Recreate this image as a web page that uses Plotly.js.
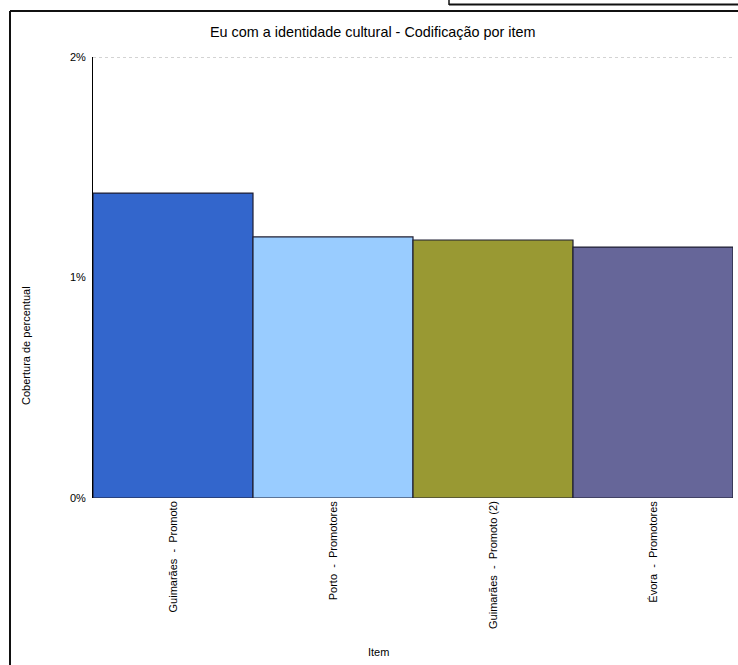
<!DOCTYPE html>
<html>
<head>
<meta charset="utf-8">
<script src="https://cdn.plot.ly/plotly-3.0.1.min.js"></script>
<style>html,body{margin:0;padding:0;background:#fff;}#chart{width:738px;height:665px;}</style>
</head>
<body>
<div id="chart"></div>
<script>
const categories = ["Guimarães\u00a0\u00a0-\u00a0\u00a0Promoto", "Porto\u00a0\u00a0-\u00a0\u00a0Promotores", "Guimarães\u00a0\u00a0-\u00a0\u00a0Promoto (2)", "Évora\u00a0\u00a0-\u00a0\u00a0Promotores"];
const coverage = [0.01383, 0.01184, 0.01170, 0.01138];
const barColors = ["#3366CC", "#99CCFF", "#999933", "#666699"];
const yTickVals = [0, 0.01, 0.02];
const yTickText = ["0%", "1%", "2%"];

const trace = {
  type: "bar",
  x: categories,
  y: coverage,
  marker: {color: barColors, line: {color: "#1f1f33", width: 1.2}},
  width: 1,
  hoverinfo: "x+y"
};

const yMax = yTickVals[yTickVals.length - 1];

const layout = {
  width: 738, height: 665,
  margin: {l: 93, r: 5, t: 57, b: 167},
  paper_bgcolor: "#ffffff",
  plot_bgcolor: "#ffffff",
  font: {family: "Liberation Sans, Arial, sans-serif", size: 11, color: "#000"},
  showlegend: false,
  bargap: 0,
  xaxis: {
    type: "category",
    tickangle: -90,
    showline: false,
    showgrid: false,
    ticks: "",
    ticklen: 0,
    tickfont: {size: 11, color: "#000"},
    automargin: false
  },
  yaxis: {
    range: [0, yMax],
    tickvals: yTickVals,
    ticktext: yTickText,
    showline: true,
    linecolor: "#000",
    linewidth: 1,
    showgrid: false,
    zeroline: false,
    ticks: "",
    ticklabelstandoff: 4,
    tickfont: {size: 11, color: "#000"},
    automargin: false
  },
  annotations: [
    {text: "Eu com a identidade cultural - Codificação por item", xref: "paper", yref: "paper",
     x: (373 - 93) / 640, y: (498 - 32) / 441, xanchor: "center", yanchor: "middle", showarrow: false,
     font: {size: 14.4, color: "#000"}},
    {text: "Cobertura de percentual", xref: "paper", yref: "paper",
     x: (26 - 93) / 640, y: (498 - 346) / 441, xanchor: "center", yanchor: "middle", textangle: -90,
     showarrow: false, font: {size: 11, color: "#000"}},
    {text: "Item", xref: "paper", yref: "paper",
     x: (378 - 93) / 640, y: (498 - 652) / 441, xanchor: "center", yanchor: "middle",
     showarrow: false, font: {size: 11, color: "#000"}}
  ],
  shapes: [
    {type: "line", xref: "paper", yref: "y", x0: 0, x1: 1, y0: yMax, y1: yMax,
     line: {color: "#a8a8a8", width: 1, dash: "dot"}, layer: "below"},
    {type: "line", xref: "paper", yref: "paper", x0: (10 - 93) / 640, x1: (10 - 93) / 640,
     y0: (498 - 11) / 441, y1: (498 - 670) / 441, line: {color: "#111", width: 2}},
    {type: "line", xref: "paper", yref: "paper", x0: (10 - 93) / 640, x1: (740 - 93) / 640,
     y0: (498 - 11) / 441, y1: (498 - 11) / 441, line: {color: "#111", width: 2}},
    {type: "line", xref: "paper", yref: "paper", x0: (449 - 93) / 640, x1: (449 - 93) / 640,
     y0: (498 + 2) / 441, y1: (498 - 5) / 441, line: {color: "#111", width: 1.5}},
    {type: "line", xref: "paper", yref: "paper", x0: (449 - 93) / 640, x1: (740 - 93) / 640,
     y0: (498 - 4.5) / 441, y1: (498 - 4.5) / 441, line: {color: "#111", width: 2}}
  ]
};

Plotly.newPlot("chart", [trace], layout, {displayModeBar: false, staticPlot: true});
</script>
</body>
</html>
